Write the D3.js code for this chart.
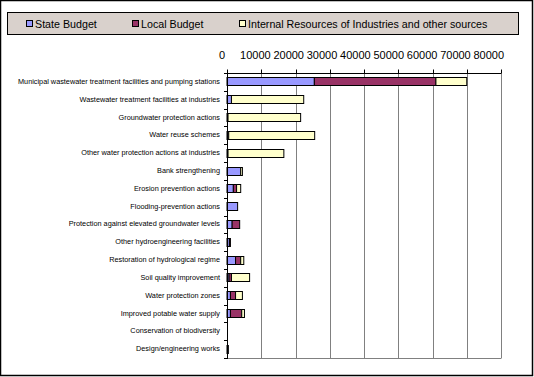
<!DOCTYPE html>
<html><head><meta charset="utf-8">
<script src="https://cdn.jsdelivr.net/npm/d3@7"></script>
<style>body{margin:0;background:#fff}svg{display:block}text{font-family:"Liberation Sans",Arial,sans-serif}</style>
</head><body><svg id="c" width="534" height="377"></svg>
<script>
const categories = [
  "Municipal wastewater treatment facilities and pumping stations",
  "Wastewater treatment facilities at industries",
  "Groundwater protection actions",
  "Water reuse schemes",
  "Other water protection actions at industries",
  "Bank strengthening",
  "Erosion prevention actions",
  "Flooding-prevention actions",
  "Protection against elevated groundwater levels",
  "Other hydroengineering facilities",
  "Restoration of hydrological regime",
  "Soil quality improvement",
  "Water protection zones",
  "Improved potable water supply",
  "Conservation of biodiversity",
  "Design/engineering works"
];
const seriesNames = ["State Budget","Local Budget","Internal Resources of Industries and other sources"];
const stateBudget = [25500,1300,300,0,300,4000,1850,3100,1500,700,2500,600,1000,1000,0,400];
const localBudget = [35500,0,0,500,0,0,950,0,2200,300,1500,700,1500,3300,0,0];
const internalRes = [9000,21100,21200,25100,16300,500,1200,0,0,0,900,5300,2000,800,0,0];
const xTicks = [0,10000,20000,30000,40000,50000,60000,70000,80000];
const colors = ["#9999ff","#993366","#ffffcc"];

const svg = d3.select("#c");
svg.append("rect").attr("x",0.5).attr("y",0.5).attr("width",532).attr("height",375)
  .attr("fill","#fff").attr("stroke","#000").attr("stroke-width",1.5);

// legend
const lg = svg.append("g");
lg.append("rect").attr("x",7.5).attr("y",12.5).attr("width",511).attr("height",22)
  .attr("fill","#d9d1cc").attr("stroke","#000");
const legX = [26,132,239];
seriesNames.forEach((n,i)=>{
  lg.append("rect").attr("x",legX[i]+0.5).attr("y",20.5).attr("width",6).attr("height",6)
    .attr("fill",colors[i]).attr("stroke","#000");
  lg.append("text").attr("x",legX[i]+9).attr("y",28).attr("font-size",10.7).text(n);
});

const x = d3.scaleLinear().domain([0,80000]).range([227,501]);
const y = d3.scaleBand().domain(categories).range([73,358]).paddingInner(0.5).paddingOuter(0.25);
const yb = d3.scaleBand().domain(categories).range([73,358]);

// grid
svg.append("g").selectAll("line").data(xTicks.slice(1)).join("line")
  .attr("x1",d=>Math.round(x(d))+0.5).attr("x2",d=>Math.round(x(d))+0.5)
  .attr("y1",73).attr("y2",358.5).attr("stroke","#808080");
svg.append("line").attr("x1",227).attr("x2",501).attr("y1",358.5).attr("y2",358.5).attr("stroke","#808080");

// bars
const data = categories.map((c,i)=>({cat:c,v:[stateBudget[i],localBudget[i],internalRes[i]]}));
const gb = svg.append("g");
data.forEach(d=>{
  let acc=0;
  d.v.forEach((v,j)=>{
    if(v>0){
      gb.append("rect").attr("x",x(acc)).attr("y",Math.round(y(d.cat))+0.5)
        .attr("width",x(acc+v)-x(acc)).attr("height",8)
        .attr("fill",colors[j]).attr("stroke","#000").attr("stroke-width",1);
    }
    acc+=v;
  });
});

// top axis
const xa = svg.append("g").attr("transform","translate(0,73.5)");
xa.append("line").attr("x1",227).attr("x2",501).attr("stroke","#000");
xa.selectAll("line.t").data(xTicks).join("line").attr("class","t")
  .attr("x1",d=>Math.round(x(d))+0.5).attr("x2",d=>Math.round(x(d))+0.5).attr("y1",-4).attr("y2",0).attr("stroke","#000");
xa.selectAll("text").data(xTicks).join("text")
  .attr("x",(d,i)=>x(d)-5-i*0.9).attr("y",-15).attr("text-anchor","middle").attr("font-size",11).text(d=>d);

// y axis
const ya = svg.append("g");
ya.append("line").attr("x1",227.5).attr("x2",227.5).attr("y1",73).attr("y2",359).attr("stroke","#000");
const bounds = categories.map(c=>yb(c)).concat([358]);
ya.selectAll("line.t").data(bounds).join("line").attr("class","t")
  .attr("x1",224).attr("x2",227).attr("y1",d=>Math.round(d)+0.5).attr("y2",d=>Math.round(d)+0.5).attr("stroke","#000");
ya.selectAll("text").data(categories).join("text")
  .attr("x",220).attr("y",d=>y(d)+4+2.5).attr("text-anchor","end").attr("font-size",7.3)
  .text(d=>d);
</script></body></html>
